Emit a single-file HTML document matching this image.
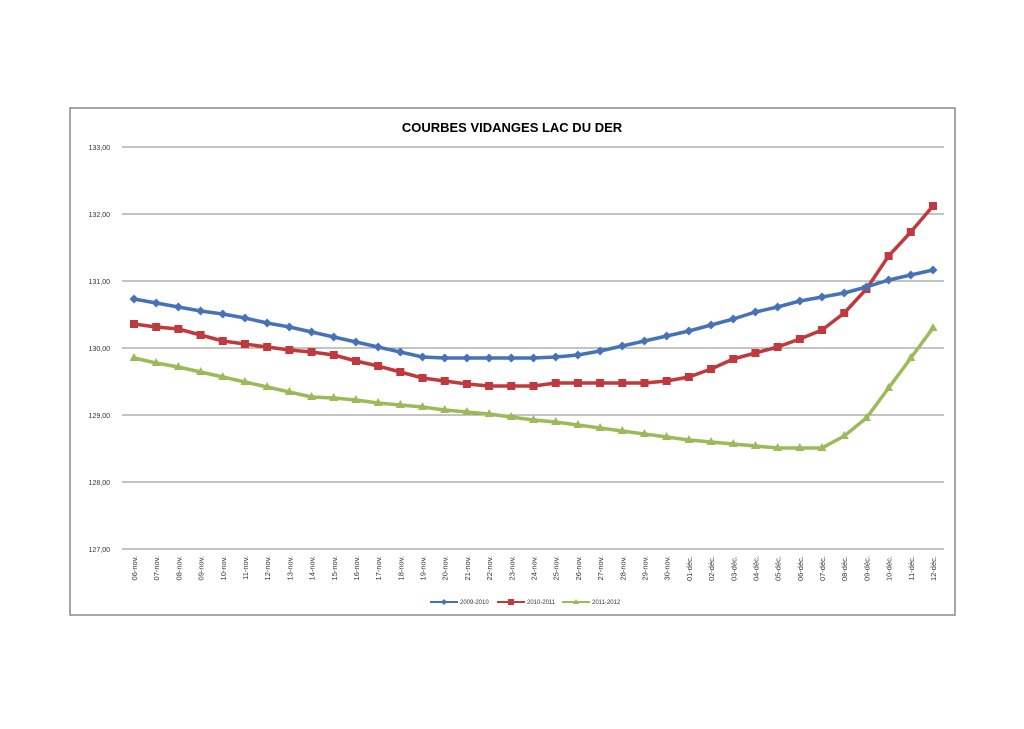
<!DOCTYPE html>
<html><head><meta charset="utf-8"><style>
html,body{margin:0;padding:0;background:#fff;}
</style></head><body>
<svg width="1024" height="724" xmlns="http://www.w3.org/2000/svg" font-family="Liberation Sans, sans-serif">
<rect x="0" y="0" width="1024" height="724" fill="#fff"/>
<rect x="70" y="108" width="885" height="507" fill="#fff" stroke="#888" stroke-width="1.5"/>
<text x="512" y="132" text-anchor="middle" font-size="13" font-weight="bold">COURBES VIDANGES LAC DU DER</text>
<g stroke="#888" stroke-width="1">
<line x1="122" y1="147" x2="944" y2="147"/><line x1="122" y1="214" x2="944" y2="214"/>
<line x1="122" y1="281" x2="944" y2="281"/><line x1="122" y1="348" x2="944" y2="348"/>
<line x1="122" y1="415" x2="944" y2="415"/><line x1="122" y1="482" x2="944" y2="482"/>
<line x1="122" y1="549" x2="944" y2="549"/>
</g>
<g font-size="7" fill="#333" text-anchor="end">
<text x="110" y="150">133,00</text><text x="110" y="217">132,00</text><text x="110" y="284">131,00</text>
<text x="110" y="351">130,00</text><text x="110" y="418">129,00</text><text x="110" y="485">128,00</text><text x="110" y="552">127,00</text>
</g>
<g id="xl" font-size="7.5" fill="#333"></g>
<g id="series"></g>
<g font-size="6" fill="#333">
<line x1="430" y1="602" x2="458" y2="602" stroke="#4572b8" stroke-width="2"/><path d="M444 599l3 3-3 3-3-3z" fill="#4572b8"/><text x="460" y="604">2009-2010</text>
<line x1="497" y1="602" x2="525" y2="602" stroke="#c0393c" stroke-width="2"/><rect x="508" y="599" width="6" height="6" fill="#c0393c"/><text x="527" y="604">2010-2011</text>
<line x1="562" y1="602" x2="590" y2="602" stroke="#9bbb59" stroke-width="2"/><path d="M576 599l3 5h-6z" fill="#9bbb59"/><text x="592" y="604">2011-2012</text>
</g>
</svg>
<script>
var labels=[];for(var d=6;d<=30;d++)labels.push((d<10?'0':'')+d+'-nov.');for(var d=1;d<=12;d++)labels.push((d<10?'0':'')+d+'-déc.');
var X=function(i){return 134+i*799/36;};
var xl=document.getElementById('xl'),s='';
labels.forEach(function(l,i){var x=X(i)+3,y=556;s+='<text x="'+x+'" y="'+y+'" text-anchor="end" transform="rotate(-90 '+x+' '+y+')">'+l+'</text>';});
xl.innerHTML=s;
var B=[299,303,307,311,314,318,323,327,332,337,342,347,352,357,358,358,358,358,358,357,355,351,346,341,336,331,325,319,312,307,301,297,293,287,280,275,270];
var R=[324,327,329,335,341,344,347,350,352,355,361,366,372,378,381,384,386,386,386,383,383,383,383,383,381,377,369,359,353,347,339,330,313,289,256,232,206];
var G=[358,363,367,372,377,382,387,392,397,398,400,403,405,407,410,412,414,417,420,422,425,428,431,434,437,440,442,444,446,448,448,448,436,418,388,358,328];
function ser(a,c,m){var p=a.map(function(y,i){return X(i).toFixed(1)+','+y;}).join(' ');
var o='<polyline points="'+p+'" fill="none" stroke="'+c+'" stroke-width="3.5" stroke-linejoin="round"/>';
a.forEach(function(y,i){var x=X(i);
if(m=='d')o+='<path d="M'+x+' '+(y-4.5)+'l4.5 4.5-4.5 4.5-4.5-4.5z" fill="'+c+'"/>';
else if(m=='s')o+='<rect x="'+(x-4)+'" y="'+(y-4)+'" width="8" height="8" fill="'+c+'"/>';
else o+='<path d="M'+x+' '+(y-5)+'l4.5 8h-9z" fill="'+c+'"/>';});return o;}
document.getElementById('series').innerHTML=ser(G,'#9bbb59','t')+ser(R,'#c0393c','s')+ser(B,'#4572b8','d');
</script>
</body></html>
